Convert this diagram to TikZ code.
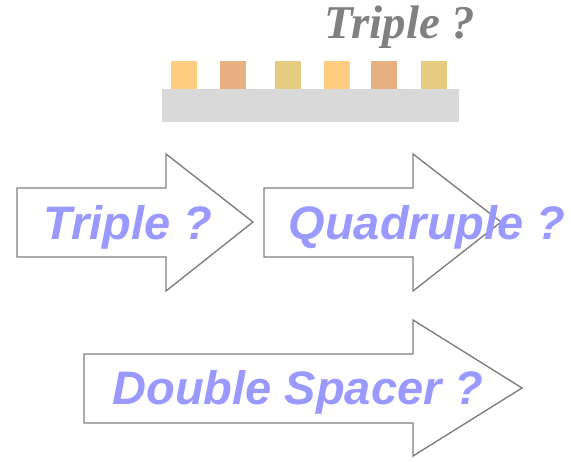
\documentclass[tikz,border=0pt]{standalone}
\usepackage{fontspec}
\setmainfont{Liberation Serif}
\setsansfont{Liberation Sans}
\definecolor{titlegray}{HTML}{808080}
\definecolor{labelblue}{HTML}{9999FF}
\definecolor{edgegray}{HTML}{808080}
\definecolor{padA}{HTML}{FFCC80}
\definecolor{padB}{HTML}{E6B080}
\definecolor{padC}{HTML}{E6CC80}
\definecolor{baseplate}{HTML}{D9D9D9}
\begin{document}
\begin{tikzpicture}[x=1pt,y=-1pt,
  blockarrow/.style={draw=edgegray,line width=1.4pt,fill=white,line join=miter},
  pad/.style={draw=none},
  arrowlabel/.style={text=labelblue,font=\sffamily\bfseries\itshape\fontsize{47}{47}\selectfont,inner sep=0pt,anchor=base},
  titlelabel/.style={text=titlegray,font=\rmfamily\bfseries\itshape\fontsize{47}{47}\selectfont,inner sep=0pt,anchor=base}]
  \useasboundingbox (0,0) rectangle (571,462);

  % substrate with six pads
  \fill[baseplate] (162,89) rectangle (459,122);
  \fill[padA] (171,61) rectangle (197,89);
  \fill[padB] (220,61) rectangle (246,89);
  \fill[padC] (275,61) rectangle (301,89);
  \fill[padA] (324,61) rectangle (350,89);
  \fill[padB] (371,61) rectangle (397,89);
  \fill[padC] (421,61) rectangle (447,89);
  \node[titlelabel] (title) at (400,39) {Triple ?};

  % first row of block arrows
  \draw[blockarrow] (17,188) -- (166,188) -- (166,154) -- (253,222) -- (166,291) -- (166,257) -- (17,257) -- cycle;
  \draw[blockarrow] (264,188) -- (413,188) -- (413,154) -- (501,222) -- (413,291) -- (413,257) -- (264,257) -- cycle;
  \node[arrowlabel] (triple) at (128,240) {Triple ?};
  \node[arrowlabel] (quad) at (427,240) {Quadruple ?};

  % lower block arrow
  \draw[blockarrow] (84,354) -- (413,354) -- (413,320) -- (522,388) -- (413,456) -- (413,423) -- (84,423) -- cycle;
  \node[arrowlabel] (spacer) at (298,405) {Double Spacer ?};
\end{tikzpicture}
\end{document}
